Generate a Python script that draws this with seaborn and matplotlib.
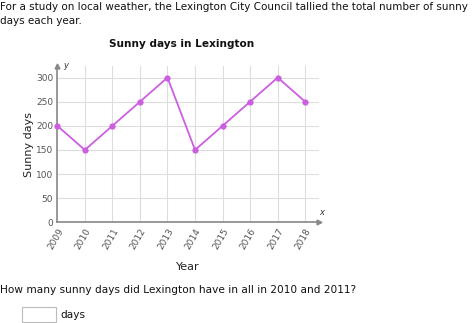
import matplotlib
matplotlib.use("Agg")
import matplotlib.pyplot as plt
import seaborn as sns
import pandas as pd

years = [2009, 2010, 2011, 2012, 2013, 2014, 2015, 2016, 2017, 2018]
sunny_days = [200, 150, 200, 250, 300, 150, 200, 250, 300, 250]
y_ticks = [0, 50, 100, 150, 200, 250, 300]

df = pd.DataFrame({"Year": years, "Sunny days": sunny_days})

sns.set_style("white")
plt.rcParams["font.family"] = ["DejaVu Sans"]

W, H = 474, 323
fig = plt.figure(figsize=(W / 100, H / 100), dpi=100)
ax = fig.add_axes([57.3 / W, 1 - 222.3 / H, (319 - 57.3) / W, (222.3 - 66) / H])

line_color = "#cc5fe0"
sns.lineplot(data=df, x="Year", y="Sunny days", ax=ax, color=line_color,
             marker="o", markersize=4.5, markeredgewidth=0, linewidth=1.3,
             zorder=5, clip_on=False)

ax.set_xlim(2009, 2018.5)
ax.set_ylim(0, 324)
ax.set_xticks(years)
ax.set_yticks(y_ticks)

# grid
for yv in y_ticks[1:]:
    ax.axhline(yv, color="#dddddd", linewidth=0.8, zorder=1)
for xv in years[1:]:
    ax.axvline(xv, color="#dddddd", linewidth=0.8, zorder=1)

for s in ["top", "right"]:
    ax.spines[s].set_visible(False)
for s in ["left", "bottom"]:
    ax.spines[s].set_color("#888888")
    ax.spines[s].set_linewidth(1.2)

# arrow heads on axes
ax.plot(1, 0, ">", transform=ax.transAxes, color="#888888", markersize=3.5, clip_on=False)
ax.plot(0, 1, "^", transform=ax.transAxes, color="#888888", markersize=3.5, clip_on=False)
ax.text(2018.5, 12, "x", fontsize=6, style="italic", color="#333333", ha="left", va="bottom")
ax.text(2009.2, 324, "y", fontsize=6, style="italic", color="#333333", ha="left", va="center")

ax.tick_params(axis="both", length=0, labelsize=6.5, labelcolor="#555555", pad=3)
ax.set_xticklabels([str(y) for y in years], rotation=60, ha="right",
                   rotation_mode="anchor")
ax.set_xlabel("Year", fontsize=8, color="#222222", labelpad=8)
ax.set_ylabel("Sunny days", fontsize=8, color="#222222", labelpad=1)

fs = 7.6
fig.text(0.0, 1 - 7 / H,
         "For a study on local weather, the Lexington City Council tallied the total number of sunny",
         fontsize=7.45, color="#111111", ha="left", va="center")
fig.text(0.0, 1 - 21 / H, "days each year.", fontsize=7.45, color="#111111",
         ha="left", va="center")
fig.text(181.5 / W, 1 - 44 / H, "Sunny days in Lexington", fontsize=fs,
         fontweight="bold", color="#111111", ha="center", va="center")
fig.text(0.0, 1 - 290 / H,
         "How many sunny days did Lexington have in all in 2010 and 2011?",
         fontsize=fs, color="#111111", ha="left", va="center")

box = plt.Rectangle((22 / W, 1 - 322 / H), 34 / W, 15 / H, transform=fig.transFigure,
                    fill=False, edgecolor="#bbbbbb", linewidth=0.8)
fig.add_artist(box)
fig.text(60 / W, 1 - 315 / H, "days", fontsize=fs, color="#111111",
         ha="left", va="center")

fig.savefig("out.png", dpi=100)
